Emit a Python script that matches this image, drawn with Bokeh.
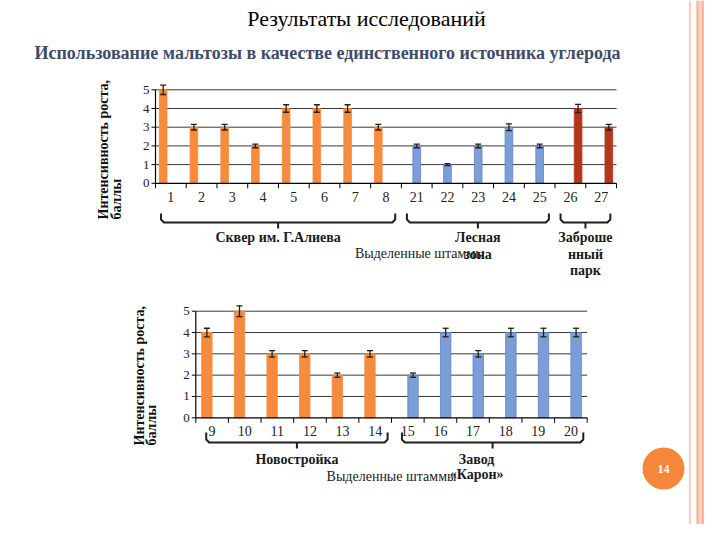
import math
from bokeh.plotting import figure
from bokeh.models import Range1d, ColumnDataSource, Whisker, TeeHead
from bokeh.core.properties import value
from bokeh.embed import file_html
from bokeh.resources import INLINE

# ---------------- data ----------------
TITLE = "Результаты исследований"
SUBTITLE = "Использование мальтозы в качестве единственного источника углерода"
Y_TITLE = ["Интенсивность роста,", "баллы"]
COMMON_LABEL = "Выделенные штаммы"
PAGE_NUMBER = "14"
Y_TICKS = [0, 1, 2, 3, 4, 5]

strains_1 = ["1", "2", "3", "4", "5", "6", "7", "8", "21", "22", "23", "24", "25", "26", "27"]
growth_1 = [5, 3, 3, 2, 4, 4, 4, 3, 2, 1, 2, 3, 2, 4, 3]
error_1 = [0.25, 0.15, 0.15, 0.1, 0.2, 0.2, 0.2, 0.15, 0.1, 0.05, 0.1, 0.18, 0.1, 0.22, 0.15]
site_1 = [0, 0, 0, 0, 0, 0, 0, 0, 1, 1, 1, 1, 1, 2, 2]
site_names_1 = [["Сквер им. Г.Алиева"], ["Лесная", "зона"], ["Заброше", "нный", "парк"]]

strains_2 = ["9", "10", "11", "12", "13", "14", "15", "16", "17", "18", "19", "20"]
growth_2 = [4, 5, 3, 3, 2, 3, 2, 4, 3, 4, 4, 4]
error_2 = [0.2, 0.25, 0.15, 0.15, 0.1, 0.15, 0.1, 0.2, 0.15, 0.2, 0.2, 0.2]
site_2 = [0, 0, 0, 0, 0, 0, 1, 1, 1, 1, 1, 1]
site_names_2 = [["Новостройка"], ["Завод", "«Карон»"]]

# ---------------- styling / layout ----------------
SERIF = "Liberation Serif"
ORANGE, BLUE, RED = "#F68B3D", "#7B9ED9", "#B4371D"
BLUE_EDGE = "#5F82C4"
X0, X1, Y0, Y1 = 0, 704, 0, 524   # visible part of the 720x540 slide

p = figure(width=704, height=524, x_range=Range1d(X0, X1), y_range=Range1d(Y1, Y0),
           x_axis_location=None, y_axis_location=None, toolbar_location=None,
           output_backend="svg", min_border=0, outline_line_color=None,
           background_fill_color="white", border_fill_color="white")
p.grid.visible = False

# slide decoration (right border bands)
p.quad(left=[688.3, 696], right=[690.7, 720], top=Y0, bottom=Y1,
       fill_color=["#F8D2C5", "#FCD1BE"], line_color=None)
p.quad(left=[696, 701.3, 706.7], right=[698, 703.3, 708.7], top=Y0, bottom=Y1,
       fill_color="#F6B59B", line_color=None)

# titles
p.text(x=[366], y=[18], text=[TITLE], text_align="center", text_baseline="middle",
       text_font=value(SERIF), text_font_size="22px", text_color="black")
p.text(x=[327], y=[52], text=[SUBTITLE], text_align="center", text_baseline="middle",
       text_font=value(SERIF), text_font_size="18px", text_font_style="bold",
       text_color="#3F4B6E")

# page number
p.scatter(x=[663], y=[468], size=42, marker="circle", fill_color="#F5863A", line_color=None)
p.text(x=[663], y=[468], text=[PAGE_NUMBER], text_align="center", text_baseline="middle",
       text_font=value(SERIF), text_font_size="12px", text_font_style="bold",
       text_color="white")


def draw_chart(name, strains, growth, error, site, site_names, g):
    n = len(strains)
    ymax = Y_TICKS[-1]
    ux = (g["right"] - g["left"]) / n
    uy = (g["zero"] - g["five"]) / ymax
    p.extra_x_ranges[name] = Range1d(-(g["left"] - X0) / ux, n + (X1 - g["right"]) / ux)
    p.extra_y_ranges[name] = Range1d(-(Y1 - g["zero"]) / uy, ymax + (g["five"] - Y0) / uy)
    kw = dict(x_range_name=name, y_range_name=name)

    # gridlines
    gl = Y_TICKS[1:]
    p.segment(x0=[0] * len(gl), y0=gl, x1=[n] * len(gl), y1=gl,
              line_color="#3a3a3a", line_width=1, **kw)

    # bars + error bars
    for s in sorted(set(site)):
        idx = [i for i in range(n) if site[i] == s]
        off = g["slots"][s]
        src = ColumnDataSource(dict(
            x=[i + 0.5 + off for i in idx],
            top=[growth[i] for i in idx],
            upper=[growth[i] + error[i] for i in idx],
            lower=[growth[i] - error[i] for i in idx]))
        col = g["colors"][s]
        edge = BLUE_EDGE if col == BLUE else col
        p.vbar(x="x", top="top", bottom=0, width=g["width"], source=src,
               fill_color=col, line_color=edge, line_width=0.8, **kw)
        wcol = "#2a1d18"
        p.add_layout(Whisker(source=src, base="x", upper="upper", lower="lower",
                             dimension="height", line_color=wcol, line_width=1.3,
                             level="overlay",
                             upper_head=TeeHead(size=6, line_color=wcol, line_width=1.3),
                             lower_head=TeeHead(size=6, line_color=wcol, line_width=1.3),
                             **kw))

    # axes
    p.segment(x0=[0], y0=[0], x1=[0], y1=[ymax], line_color="black", line_width=1.2, **kw)
    p.segment(x0=[0], y0=[0], x1=[n], y1=[0], line_color="black", line_width=1.2, **kw)
    p.ray(x=[0] * len(Y_TICKS), y=Y_TICKS, length=4, length_units="screen",
          angle=math.pi, line_color="black", line_width=1, **kw)
    p.ray(x=list(range(n + 1)), y=[0] * (n + 1), length=5, length_units="screen",
          angle=-math.pi / 2, line_color="black", line_width=1, **kw)
    p.text(x=[0] * len(Y_TICKS), y=Y_TICKS, text=[str(t) for t in Y_TICKS], x_offset=-6,
           text_align="right", text_baseline="middle", text_font=value(SERIF),
           text_font_size="13px", text_color="#222222", **kw)
    p.text(x=[i + 0.5 for i in range(n)], y=[0] * n, text=strains, y_offset=g["lab_dy"],
           text_align="center", text_baseline="middle", text_font=value(SERIF),
           text_font_size="14px", text_color="#222222", **kw)

    # y title (rotated, two lines)
    for j, line in enumerate(Y_TITLE):
        p.text(x=[g["ytitle_x"][j]], y=[g["ytitle_bottom"]], text=[line], angle=math.pi / 2,
               text_align="left", text_baseline="middle", text_font=value(SERIF),
               text_font_size="14px", text_font_style="bold", text_color="#111111")

    # group brackets and labels
    d = 3 / ux
    for s in sorted(set(site)):
        idx = [i for i in range(n) if site[i] == s]
        a = idx[0] + g["inset"][0]
        b = idx[-1] + 1 - g["inset"][1]
        m = (a + b) / 2
        top, bot, tip = g["br"]
        p.multi_line(xs=[[a, a, a + d, b - d, b, b], [m, m]],
                     ys=[[top, bot - 3, bot, bot, bot - 3, top], [bot, tip]],
                     line_color="#1e1e1e", line_width=2, line_join="round",
                     x_range_name=name)
        for j, line in enumerate(site_names[s]):
            p.text(x=[m], y=[g["lab_y"] + j * g["lab_h"]], text=[line],
                   x_offset=g["name_dx"][s], text_align="center", text_baseline="middle",
                   text_font=value(SERIF), text_font_size="14px", text_font_style="bold",
                   text_color="#1a1a1a", x_range_name=name)
    p.text(x=[g["common_x"]], y=[g["common_y"]], text=[COMMON_LABEL],
           text_align="center", text_baseline="middle", text_font=value(SERIF),
           text_font_size="14px", text_color="#222222", x_range_name=name)


draw_chart("c1", strains_1, growth_1, error_1, site_1, site_names_1, dict(
    left=155, right=616, zero=182.8, five=89.3, width=0.25,
    slots=[-0.25, 0.0, 0.25], colors=[ORANGE, BLUE, RED], lab_dy=14,
    ytitle_x=[103, 116], ytitle_bottom=219, inset=(0.18, 0.2),
    br=(213, 222, 228), lab_y=237, lab_h=16.5, name_dx=[0, 0, 0],
    common_x=8.6, common_y=253))

draw_chart("c2", strains_2, growth_2, error_2, site_2, site_names_2, dict(
    left=195.3, right=586.7, zero=417.3, five=310.7, width=0.32,
    slots=[-0.16, 0.16], colors=[ORANGE, BLUE], lab_dy=13,
    ytitle_x=[139, 151], ytitle_bottom=445, inset=(0.32, 0.12),
    br=(432, 442, 448), lab_y=459, lab_h=15, name_dx=[0, -16],
    common_x=6.0, common_y=476))

open("out.html", "w").write(file_html(p, INLINE))
